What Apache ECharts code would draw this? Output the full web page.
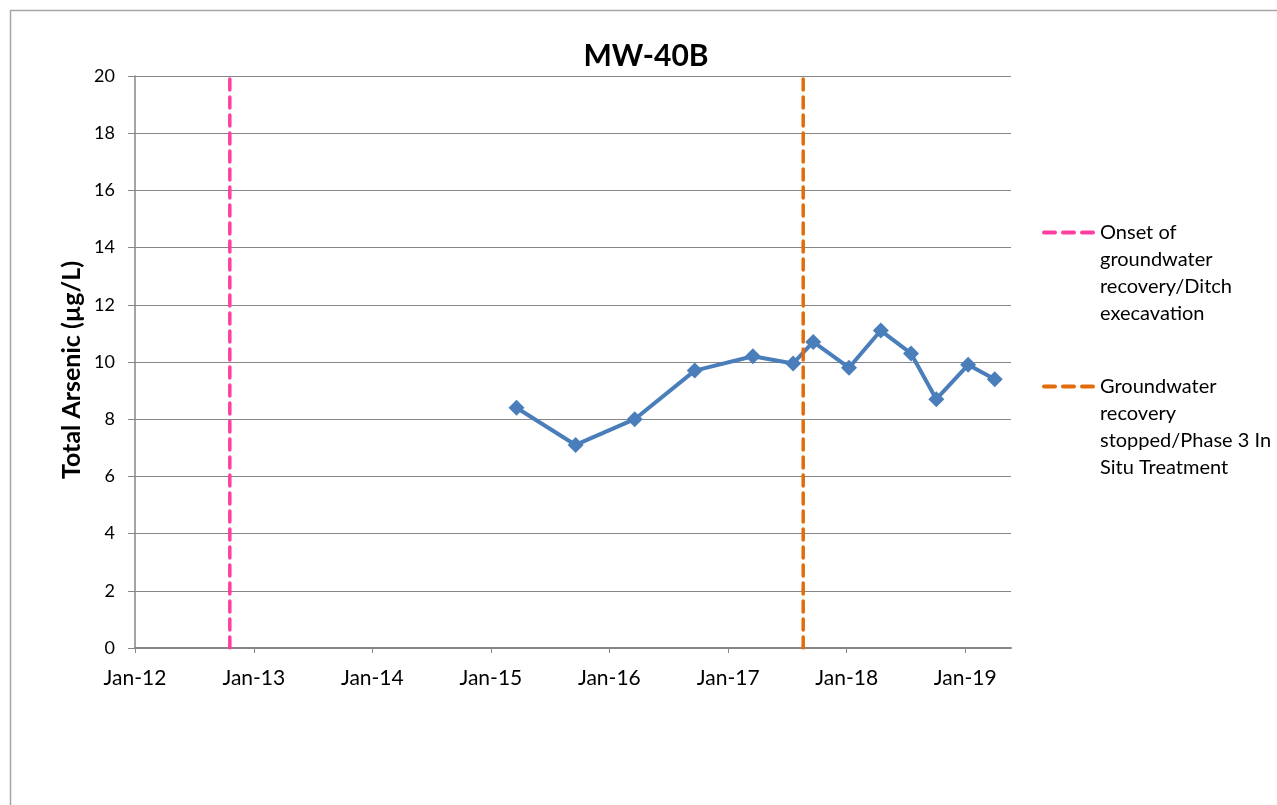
<!DOCTYPE html>
<html>
<head>
<meta charset="utf-8">
<script src="https://cdn.jsdelivr.net/npm/echarts@6/dist/echarts.min.js"></script>
<style>
html, body { margin: 0; padding: 0; background: #fff; }
#chart { width: 1277px; height: 805px; }
</style>
</head>
<body>
<div id="chart"></div>
<script>
// MW-40B sampling results
const sampleDates = [
	'2015-03-21', '2015-09-19', '2016-03-19', '2016-09-20', '2017-03-18',
	'2017-07-20', '2017-09-20', '2018-01-08', '2018-04-16', '2018-07-18',
	'2018-10-04', '2019-01-10', '2019-04-02',
];
const arsenic = [8.4, 7.1, 8.0, 9.7, 10.2, 9.95, 10.7, 9.8, 11.1, 10.3, 8.7, 9.9, 9.4];

// event markers
const onsetDate = '2012-10-19';
const stopDate = '2017-08-20';
const onsetName = 'Onset of groundwater recovery/Ditch execavation';
const stopName = 'Groundwater recovery stopped/Phase 3 In Situ Treatment';
const legendLines = {};
legendLines[onsetName] = ['Onset of', 'groundwater', 'recovery/Ditch', 'execavation'];
legendLines[stopName] = ['Groundwater', 'recovery', 'stopped/Phase 3 In', 'Situ Treatment'];

const xMin = '2012-01-01';
const xMax = '2019-05-22';
const yMin = 0;
const yMax = 20;
const monthNames = ['Jan', 'Feb', 'Mar', 'Apr', 'May', 'Jun', 'Jul', 'Aug', 'Sep', 'Oct', 'Nov', 'Dec'];

const font = 'Lato, "Open Sans", sans-serif';
const gray = '#868686';
const YEAR = 365 * 24 * 3600 * 1000;

// three rounded dashes for the legend keys
function dash(o) {
	return 'M' + (o + 2) + ',0h11a2,2 0 0 1 0,4h-11a2,2 0 0 1 0,-4z';
}
const dashIcon = 'path://' + dash(0) + dash(19) + dash(38);

const chart = echarts.init(document.getElementById('chart'));
chart.setOption({
	backgroundColor: '#fff',
	animation: false,
	textStyle: { fontFamily: font },
	graphic: [
		{
			type: 'rect',
			shape: { x: 10.5, y: 10.5, width: 1400, height: 900 },
			style: { fill: 'none', stroke: '#a6a6a6', lineWidth: 1.5 },
			silent: true,
		},
		{
			// y axis title
			type: 'text',
			x: 72,
			y: 370,
			rotation: Math.PI / 2,
			style: {
				text: 'Total Arsenic (µg/L)',
				fontFamily: font,
				fontSize: 25,
				fontWeight: 'bold',
				fill: '#000',
				align: 'center',
				verticalAlign: 'middle',
			},
			silent: true,
		},
	],
	title: {
		text: 'MW-40B',
		left: 641,
		top: 36,
		textAlign: 'center',
		textStyle: { fontFamily: font, fontSize: 30, fontWeight: 'bold', color: '#000' },
	},
	legend: {
		orient: 'vertical',
		left: 1037,
		top: 133,
		itemWidth: 53,
		itemHeight: 4,
		itemGap: -35,
		icon: dashIcon,
		data: [onsetName, stopName],
		formatter: function (name) {
			// blank lines on top so the key sits beside the first line
			return '\n\n\n' + legendLines[name].join('\n');
		},
		textStyle: {
			fontFamily: font,
			fontSize: 20,
			lineHeight: 27,
			color: '#000',
		},
	},
	grid: {
		left: 135,
		right: 266,
		top: 76,
		bottom: 157,
	},
	xAxis: {
		type: 'time',
		min: xMin,
		max: xMax,
		minInterval: YEAR,
		maxInterval: YEAR * 1.01,
		splitLine: { show: false },
		axisLine: { lineStyle: { color: gray, width: 2 } },
		axisTick: { show: true, length: 5, lineStyle: { color: gray, width: 1 } },
		minorTick: { show: false },
		axisLabel: {
			color: '#000',
			fontFamily: font,
			fontSize: 21,
			margin: 20,
			showMinLabel: true,
			showMaxLabel: false,
			formatter: function (value) {
				const d = new Date(value);
				return monthNames[d.getMonth()] + '-' + String(d.getFullYear()).slice(2);
			},
		},
	},
	yAxis: {
		type: 'value',
		min: yMin,
		max: yMax,
		interval: 2,
		axisLine: { show: true, lineStyle: { color: gray, width: 1.5 } },
		axisTick: { show: true, length: 7, lineStyle: { color: gray } },
		splitLine: { lineStyle: { color: gray, width: 1 } },
		axisLabel: { color: '#000', fontFamily: font, fontSize: 18, margin: 20 },
	},
	series: [
		{
			name: 'MW-40B',
			type: 'line',
			data: sampleDates.map((d, i) => [d, arsenic[i]]),
			symbol: 'diamond',
			symbolSize: 16,
			itemStyle: { color: '#4A7EBB' },
			lineStyle: { color: '#4A7EBB', width: 4 },
			z: 2,
		},
		{
			name: onsetName,
			type: 'line',
			data: [[onsetDate, yMin], [onsetDate, yMax]],
			symbol: 'none',
			itemStyle: { color: '#FF3FA0' },
			lineStyle: { color: '#FF3FA0', width: 3.5, type: [11, 7], cap: 'round' },
			z: 3,
		},
		{
			name: stopName,
			type: 'line',
			data: [[stopDate, yMin], [stopDate, yMax]],
			symbol: 'none',
			itemStyle: { color: '#E36C0A' },
			lineStyle: { color: '#E36C0A', width: 3.5, type: [11, 7], cap: 'round' },
			z: 3,
		},
	],
});
</script>
</body>
</html>
